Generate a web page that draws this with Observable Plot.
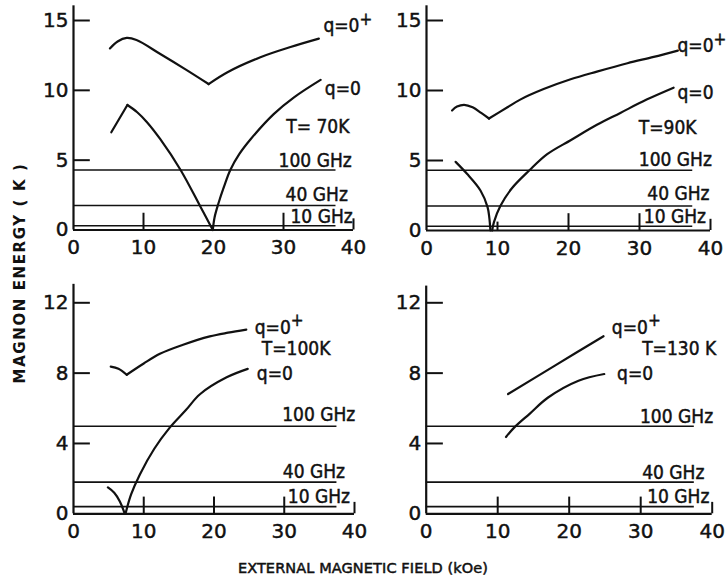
<!DOCTYPE html>
<html>
<head>
<meta charset="utf-8">
<script src="https://cdn.jsdelivr.net/npm/d3@7"></script>
<script src="https://cdn.jsdelivr.net/npm/@observablehq/plot@0.6"></script>
<style>
  body { margin: 0; background: #fff; }
  #fig { position: relative; width: 727px; height: 584px; background: #fff; overflow: hidden; }
  #fig svg { position: absolute; }
  #fig svg text { stroke: #111; stroke-width: 0.45px; }
  .ytitle { position: absolute; left: 20px; top: 273px; transform: translate(-50%, -50%) rotate(-90deg);
            white-space: nowrap; font: bold 15px "DejaVu Sans", sans-serif; letter-spacing: 1.6px; color: #111; }
  .xtitle { position: absolute; left: 363px; top: 568px; transform: translate(-50%, -50%);
            white-space: nowrap; font: 14.5px "DejaVu Sans", sans-serif; letter-spacing: 0.1px; color: #111;
            -webkit-text-stroke: 0.5px #111; }
</style>
</head>
<body>
<div id="fig">
  <div class="ytitle">MAGNON ENERGY ( K )</div>
  <div class="xtitle">EXTERNAL MAGNETIC FIELD (kOe)</div>
</div>
<script>
// ---------- data ----------
const xTickValues = [0, 10, 20, 30, 40];
const yTicksTop = [0, 5, 10, 15];
const yTicksBottom = [0, 4, 8, 12];
const freqLabels = ["100 GHz", "40 GHz", "10 GHz"];
const freqTop = [4.3, 1.75, 0.3];
const freqBottom = [4.98, 1.8, 0.41];

// T = 70 K
const t70_qplus_a = [[5.2,13.0],[6.3,13.5],[7.6,13.75],[9,13.6],[12.4,12.6],[16,11.5],[19.3,10.45]];
const t70_qplus_b = [[19.3,10.45],[22,11.3],[26.7,12.37],[31,13.1],[35.05,13.7]];
const t70_q0_a = [[5.4,7.0],[7.7,8.95]];
const t70_q0_b = [[7.7,8.95],[9.1,8.43],[10.5,7.72],[12.4,6.5],[15.3,4.3],[18.1,1.7],[19.9,0]];
const t70_q0_c = [[19.9,0],[20.15,0.9],[20.7,1.9],[21.5,3.1],[22.4,4.3],[23.7,5.45],[25.3,6.5],[28.6,8.3],[31.5,9.5],[35.3,10.75]];

// T = 90 K
const t90_qplus_a = [[3.6,8.57],[4.3,8.85],[5.3,8.98],[6.5,8.8],[7.7,8.4],[8.8,8.0]];
const t90_qplus_b = [[8.8,8.0],[11.4,8.8],[13.2,9.35],[16.5,10.1],[20.3,10.8],[24,11.35],[28.3,11.95],[32,12.4],[35.4,12.85]];
const t90_q0_a = [[4.1,4.9],[5.7,4.05],[7.6,2.86],[8.6,1.67],[8.85,0.9],[9.0,0]];
const t90_q0_b = [[9.25,0],[9.5,0.6],[10.4,1.75],[12,3.0],[14.5,4.3],[17,5.45],[20.3,6.45],[24,7.55],[27.3,8.4],[31,9.35],[34.8,10.2]];

// T = 100 K
const t100_qplus_a = [[5.3,8.37],[6.4,8.25],[7.57,7.91]];
const t100_qplus_b = [[7.57,7.91],[10,8.55],[12.3,9.1],[15.5,9.6],[19.4,10.09],[22,10.3],[24.6,10.47]];
const t100_q0_a = [[4.9,1.5],[5.8,1.2],[6.6,0.7],[7.3,0]];
const t100_q0_b = [[7.4,0],[8.2,1.1],[9.45,2.24],[11.5,3.7],[13.7,4.9],[16,5.9],[18,6.8],[21.8,7.76],[24.8,8.24]];

// T = 130 K
const t130_qplus = [[11.45,6.81],[18,8.43],[24.8,10.1]];
const t130_q0 = [[11.16,4.37],[12.3,4.9],[14.5,5.7],[17,6.6],[21.3,7.57],[24.9,7.95]];

// annotation text
const labels70 = [["q=0+",35.7,14.6],["q=0",35.9,10.1],["T= 70K",30.4,7.4],["100 GHz",29.3,4.94],["40 GHz",30.3,2.54],["10 GHz",31,0.93]];
const labels90 = [["q=0+",35.35,13.2],["q=0",35.35,9.85],["T=90K",29.9,7.3],["100 GHz",29.9,5.05],["40 GHz",31.1,2.6],["10 GHz",30.6,1.0]];
const labels100 = [["q=0+",25.8,10.6],["T=100K",26.8,9.4],["q=0",26.1,7.98],["100 GHz",29.7,5.6],["40 GHz",29.8,2.38],["10 GHz",30.5,0.96]];
const labels130 = [["q=0+",25.96,10.6],["T=130 K",30.2,9.4],["q=0",26.7,7.98],["100 GHz",29.9,5.53],["40 GHz",30.2,2.35],["10 GHz",30.9,0.96]];

// ---------- drawing ----------
const ink = "#111";
function panel(cfg) {
  const curves = cfg.segments.flatMap((seg, i) => seg.map(([x, y]) => ({x, y, seg: i})));
  const freq = cfg.freq.map((y, i) => ({y, label: freqLabels[i]}));
  const labels = cfg.labels.map(([text, x, y]) => ({text, x, y}));
  const svg = Plot.plot({
    width: cfg.width, height: cfg.height,
    marginLeft: cfg.ml, marginRight: cfg.mr, marginTop: cfg.mt, marginBottom: cfg.mb,
    x: {domain: [0, 40]},
    y: {domain: cfg.yDomain},
    style: {background: "transparent", overflow: "visible", fontFamily: "DejaVu Sans", fontSize: "20px", color: ink},
    marks: [
      Plot.ruleY(freq, {y: "y", x1: 0, x2: 37.5, stroke: ink, strokeWidth: 1.6}),
      Plot.ruleX([0], {y1: 0, y2: cfg.yTop, stroke: ink, strokeWidth: 2.2}),
      Plot.ruleY([0], {x1: 0, x2: 40, stroke: ink, strokeWidth: 2.2}),
      Plot.ruleX([40], {y1: 0, y2: cfg.endTick, stroke: ink, strokeWidth: 2}),
      Plot.ruleX(cfg.xTicks, {y1: 0, y2: cfg.tickH, stroke: ink, strokeWidth: 2}),
      Plot.ruleX(cfg.shortTicks, {y1: 0, y2: cfg.tickH / 2, stroke: ink, strokeWidth: 2}),
      Plot.ruleY(cfg.yTicks.filter(d => d > 0), {x1: 0, x2: 2.4, stroke: ink, strokeWidth: 2}),
      Plot.line(curves, {x: "x", y: "y", z: "seg", curve: "catmull-rom", stroke: ink, strokeWidth: 2.2}),
      Plot.axisX(xTickValues, {tickSize: 0, tickPadding: 10, label: null, fontSize: 20, fill: ink}),
      Plot.axisY(cfg.yTicks, {tickSize: 0, tickPadding: 5, label: null, fontSize: 20, fill: ink}),
      Plot.text(labels, {x: "x", y: "y", text: "text", textAnchor: "start", lineAnchor: "middle",
                         fontSize: 19, fontFamily: "DejaVu Sans Condensed, DejaVu Sans", fill: ink})
    ]
  });
  // raise the "+" of q=0+ as a superscript
  svg.querySelectorAll("text").forEach(t => {
    if (t.textContent === "q=0+") {
      t.textContent = "q=0";
      const ts = document.createElementNS("http://www.w3.org/2000/svg", "tspan");
      ts.setAttribute("dy", "-0.42em");
      ts.setAttribute("font-size", "17");
      ts.textContent = "+";
      t.appendChild(ts);
    }
  });
  svg.style.left = cfg.left + "px";
  svg.style.top = cfg.top + "px";
  document.getElementById("fig").appendChild(svg);
}

panel({left: 0, top: 0, width: 370, height: 270, ml: 73, mr: 17, mt: 20, mb: 40.5,
       yDomain: [0, 15], yTicks: yTicksTop, yTop: 16.05, tickH: 1.2, endTick: 0.8,
       xTicks: [10, 30], shortTicks: [], freq: freqTop,
       segments: [t70_qplus_a, t70_qplus_b, t70_q0_a, t70_q0_b, t70_q0_c], labels: labels70});
panel({left: 353, top: 0, width: 374, height: 270, ml: 73, mr: 17, mt: 20, mb: 40,
       yDomain: [0, 15], yTicks: yTicksTop, yTop: 16.05, tickH: 1.2, endTick: 0.8,
       xTicks: [20, 30], shortTicks: [10], freq: freqTop,
       segments: [t90_qplus_a, t90_qplus_b, t90_q0_a, t90_q0_b], labels: labels90});
panel({left: 0, top: 270, width: 370, height: 280, ml: 73, mr: 16, mt: 32.3, mb: 36.7,
       yDomain: [0, 12], yTicks: yTicksBottom, yTop: 13.05, tickH: 0.95, endTick: 0.65,
       xTicks: [10, 20, 30], shortTicks: [], freq: freqBottom,
       segments: [t100_qplus_a, t100_qplus_b, t100_q0_a, t100_q0_b], labels: labels100});
panel({left: 353, top: 270, width: 374, height: 280, ml: 72.7, mr: 15.3, mt: 32.3, mb: 36.7,
       yDomain: [0, 12], yTicks: yTicksBottom, yTop: 12.95, tickH: 0.95, endTick: 0.65,
       xTicks: [10, 20, 30], shortTicks: [], freq: freqBottom,
       segments: [t130_qplus, t130_q0], labels: labels130});
</script>
</body>
</html>
